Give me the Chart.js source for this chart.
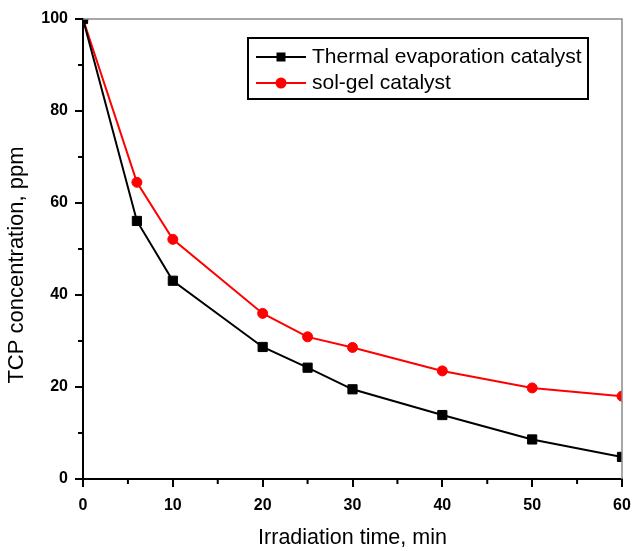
<!DOCTYPE html>
<html>
<head>
<meta charset="utf-8">
<script src="https://cdn.jsdelivr.net/npm/chart.js@4"></script>
<style>
  html, body { margin: 0; padding: 0; background: #fff; }
  canvas { display: block; }
</style>
</head>
<body>
<canvas id="decayChart" width="633" height="551"></canvas>
<script>
// irradiation time (min) and TCP concentration (ppm) for both catalysts
const times = [0, 6, 10, 20, 25, 30, 40, 50, 60];
const thermalPpm = [100, 56.1, 43.1, 28.7, 24.2, 19.5, 13.9, 8.6, 4.8];
const solGelPpm = [100, 64.5, 52.1, 36.0, 30.9, 28.6, 23.5, 19.8, 18.0];
const seriesNames = ['Thermal evaporation catalyst', 'sol-gel catalyst'];
const xMinorTicks = [5, 15, 25, 35, 45, 55];
const yMinorTicks = [10, 30, 50, 70, 90];

const FONT = '"Liberation Sans", Arial, sans-serif';

const toPoints = (ys) => times.map((t, i) => ({ x: t, y: ys[i] }));

// minor ticks, top/right frame, rotated y title and boxed legend
const extras = {
    id: 'extras',
    afterDraw(chart) {
        const { ctx, chartArea: area, scales } = chart;
        const xs = scales.x, ys = scales.y;
        ctx.save();

        ctx.strokeStyle = '#8a8a8a';
        ctx.lineWidth = 1.5;
        ctx.beginPath();
        ctx.moveTo(area.left, area.top);
        ctx.lineTo(area.right, area.top);
        ctx.lineTo(area.right, area.bottom);
        ctx.stroke();

        ctx.strokeStyle = '#000';
        ctx.lineWidth = 2;
        ctx.beginPath();
        xMinorTicks.forEach(v => {
            const px = xs.getPixelForValue(v);
            ctx.moveTo(px, area.bottom);
            ctx.lineTo(px, area.bottom + 5);
        });
        yMinorTicks.forEach(v => {
            const py = ys.getPixelForValue(v);
            ctx.moveTo(area.left, py);
            ctx.lineTo(area.left - 5, py);
        });
        ctx.stroke();

        ctx.fillStyle = '#000';
        ctx.font = '22px ' + FONT;
        ctx.textAlign = 'center';
        ctx.textBaseline = 'middle';
        ctx.translate(17, 265);
        ctx.rotate(-Math.PI / 2);
        ctx.fillText('TCP concentration, ppm', 0, 0);
        ctx.setTransform(1, 0, 0, 1, 0, 0);

        // legend
        ctx.lineWidth = 2;
        ctx.strokeStyle = '#000';
        ctx.strokeRect(248, 38, 340, 61);
        const rowsY = [57, 83];
        chart.data.datasets.forEach((ds, i) => {
            const y = rowsY[i];
            ctx.strokeStyle = ds.borderColor;
            ctx.lineWidth = 2;
            ctx.beginPath();
            ctx.moveTo(256, y);
            ctx.lineTo(306, y);
            ctx.stroke();
            ctx.fillStyle = ds.pointBackgroundColor;
            if (ds.pointStyle === 'rect') {
                ctx.fillRect(276.5, y - 4.5, 9, 9);
            } else {
                ctx.beginPath();
                ctx.arc(281, y, 5.5, 0, Math.PI * 2);
                ctx.fill();
            }
            ctx.fillStyle = '#000';
            ctx.font = '21px ' + FONT;
            ctx.textAlign = 'left';
            ctx.fillText(seriesNames[i], 312, y);
        });
        ctx.restore();
    }
};

new Chart(document.getElementById('decayChart'), {
    type: 'line',
    data: {
        datasets: [{
            label: seriesNames[0],
            data: toPoints(thermalPpm),
            borderColor: '#000',
            backgroundColor: '#000',
            pointBackgroundColor: '#000',
            pointBorderColor: '#000',
            pointStyle: 'rect',
            pointRadius: 6.5,
            pointBorderWidth: 1,
            borderWidth: 2,
            tension: 0
        }, {
            label: seriesNames[1],
            data: toPoints(solGelPpm),
            borderColor: '#ff0000',
            backgroundColor: '#ff0000',
            pointBackgroundColor: '#ff0000',
            pointBorderColor: '#ff0000',
            pointStyle: 'circle',
            pointRadius: 5,
            pointBorderWidth: 1,
            borderWidth: 2,
            tension: 0
        }]
    },
    options: {
        responsive: false,
        animation: false,
        layout: { padding: { top: 19, right: 11, left: 0, bottom: 0 } },
        plugins: {
            legend: { display: false },
            tooltip: { enabled: false }
        },
        scales: {
            x: {
                type: 'linear',
                min: 0,
                max: 60,
                afterFit: (scale) => {
                    scale.height = 72;
                    scale.paddingLeft = 0;
                    scale.paddingRight = 0;
                },
                ticks: {
                    stepSize: 10,
                    color: '#000',
                    padding: 9,
                    font: { family: FONT, size: 16, weight: 'bold' }
                },
                grid: { drawOnChartArea: false, tickLength: 8, color: '#000', lineWidth: 2 },
                border: { color: '#000', width: 2 },
                title: {
                    display: true,
                    text: 'Irradiation time, min',
                    color: '#000',
                    padding: { top: 0, bottom: 0 },
                    font: { family: FONT, size: 21.5 }
                }
            },
            y: {
                min: 0,
                max: 100,
                afterFit: (scale) => {
                    scale.width = 83;
                    scale.paddingTop = 0;
                    scale.paddingBottom = 0;
                },
                ticks: {
                    stepSize: 20,
                    color: '#000',
                    padding: 7,
                    font: { family: FONT, size: 16, weight: 'bold' }
                },
                grid: { drawOnChartArea: false, tickLength: 8, color: '#000', lineWidth: 2 },
                border: { color: '#000', width: 2 }
            }
        }
    },
    plugins: [extras]
});
</script>
</body>
</html>
